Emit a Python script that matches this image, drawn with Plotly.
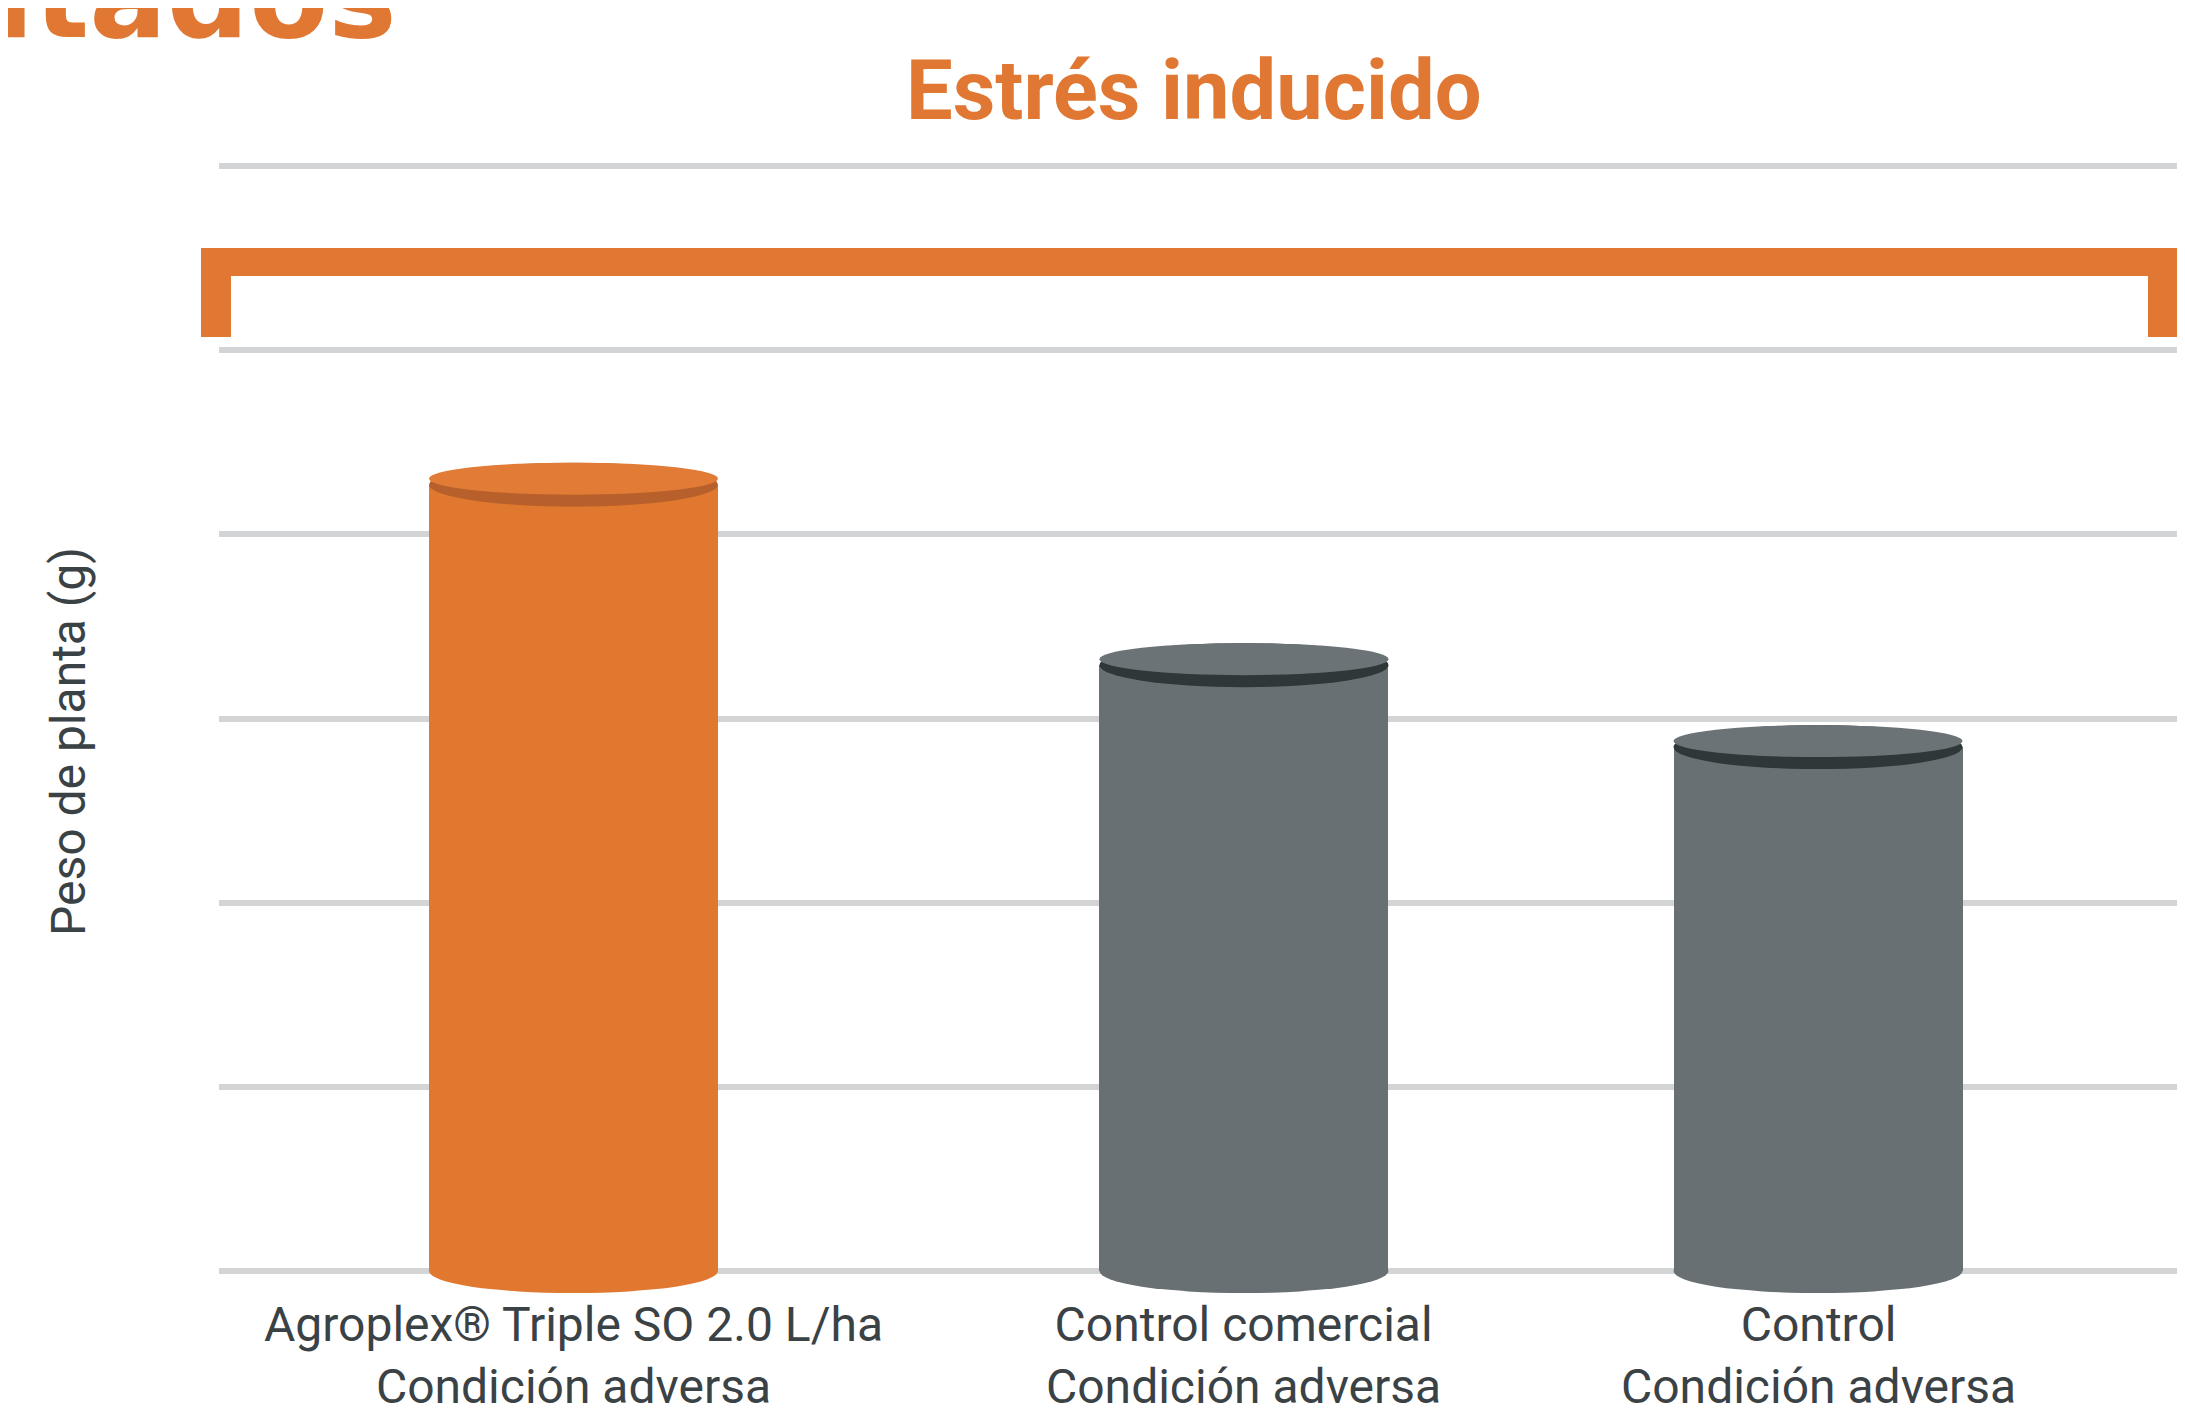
import plotly.graph_objects as go

# ---------------- data ----------------
categories = ["Agroplex® Triple SO 2.0 L/ha", "Control comercial", "Control"]
conditions = ["Condición adversa", "Condición adversa", "Condición adversa"]
peso = [4.27, 3.29, 2.845]
y_title = "Peso de planta (g)"
chart_title = "Estrés inducido"
section_title = "Resultados"

# ---------------- style ----------------
ORANGE = "#E07833"
TEXT = "#3B4245"
GRID = "#D3D4D6"
body_colors = ["#E0782F", "#687073", "#687073"]
top_colors = ["#E27B35", "#6B7376", "#6B7376"]
rim_colors = ["#B8602B", "#2F3738", "#2F3738"]
shift = [0.0, 0.0775, 0.0]           # small horizontal layout nudge per slot

OFF = 8                              # page body margin of the html page
W, H = 2185 - OFF, 1418 - OFF
ML, MR, MT = 219 - OFF, 0, 150 - OFF
plot_w = W - ML - MR
plot_h = 1150
MB = H - MT - plot_h
y_range = [-0.157, 6.087]
x_range = [-0.5697, 2.5898]
px_x = plot_w / (x_range[1] - x_range[0])
px_y = plot_h / (y_range[1] - y_range[0])
bar_w = 289 / px_x
cap_h = 22 / px_y
rim = 12 / px_y


def xp(px):  # window pixel -> paper
    return (px - 219) / plot_w


def yp(py):  # window pixel -> paper
    return (1300 - py) / plot_h


FONT = "Roboto, Liberation Sans, sans-serif"

fig = go.Figure()
fig.add_trace(go.Bar(
    x=categories, y=peso,
    width=bar_w,
    offset=[s - bar_w / 2 for s in shift],
    marker=dict(color=body_colors, line=dict(width=0)),
    hoverinfo="x+y",
))

shapes = []
for i, v in enumerate(peso):
    cx = i + shift[i]
    x0, x1 = cx - bar_w / 2, cx + bar_w / 2
    shapes.append(dict(type="circle", xref="x", yref="y", x0=x0, x1=x1,
                       y0=-cap_h, y1=cap_h, fillcolor=body_colors[i],
                       line=dict(width=0), layer="above"))
    shapes.append(dict(type="circle", xref="x", yref="y", x0=x0, x1=x1,
                       y0=v - cap_h, y1=v + cap_h, fillcolor=rim_colors[i],
                       line=dict(width=0), layer="above"))
    shapes.append(dict(type="circle", xref="x", yref="y", x0=x0, x1=x1,
                       y0=v - cap_h + rim, y1=v + cap_h, fillcolor=top_colors[i],
                       line=dict(width=0), layer="above"))

# bracket
bx0, bx1, btop, bbar, bleg, lw = 201, 2178, 248, 276, 337, 30
pts = [(bx0, btop), (bx1, btop), (bx1, bleg), (bx1 - lw, bleg), (bx1 - lw, bbar),
       (bx0 + lw, bbar), (bx0 + lw, bleg), (bx0, bleg)]
path = "M " + " L ".join(f"{xp(a):.5f},{yp(b):.5f}" for a, b in pts) + " Z"
shapes.append(dict(type="path", xref="paper", yref="paper", path=path,
                   fillcolor=ORANGE, line=dict(width=0), layer="above"))

annotations = []
for i, (c, cond) in enumerate(zip(categories, conditions)):
    annotations.append(dict(x=i + shift[i], y=yp(1416), xref="x", yref="paper",
                            text=f"{c}<br>{cond}", showarrow=False,
                            xanchor="center", yanchor="bottom", align="center",
                            borderpad=0,
                            font=dict(family=FONT, size=48, color=TEXT)))

annotations.append(dict(x=xp(68), y=yp(742), xref="paper", yref="paper",
                        text=y_title, textangle=-90, showarrow=False,
                        xanchor="center", yanchor="middle",
                        font=dict(family=FONT, size=48, color=TEXT)))
annotations.append(dict(x=xp(1194), y=yp(91), xref="paper", yref="paper",
                        text=chart_title, showarrow=False,
                        xanchor="center", yanchor="middle",
                        font=dict(family=FONT, size=83, color=ORANGE, weight="bold")))
annotations.append(dict(x=xp(399), y=yp(-3), xref="paper", yref="paper",
                        text=section_title, showarrow=False,
                        xanchor="right", yanchor="middle",
                        font=dict(family="DejaVu Sans, sans-serif", size=115,
                                  color=ORANGE, weight="bold")))

fig.update_layout(
    width=W, height=H,
    margin=dict(l=ML, r=MR, t=MT, b=MB, pad=0),
    paper_bgcolor="white", plot_bgcolor="white",
    showlegend=False,
    shapes=shapes,
    annotations=annotations,
    bargap=0,
    xaxis=dict(type="category", range=x_range, showgrid=False, showticklabels=False,
               ticks="", showline=False, zeroline=False, fixedrange=True),
    yaxis=dict(range=y_range, tick0=0, dtick=1, showgrid=True, gridcolor=GRID,
               gridwidth=6, showticklabels=False, ticks="", showline=False,
               zeroline=False, fixedrange=True),
)

fig.write_html("out.html")
